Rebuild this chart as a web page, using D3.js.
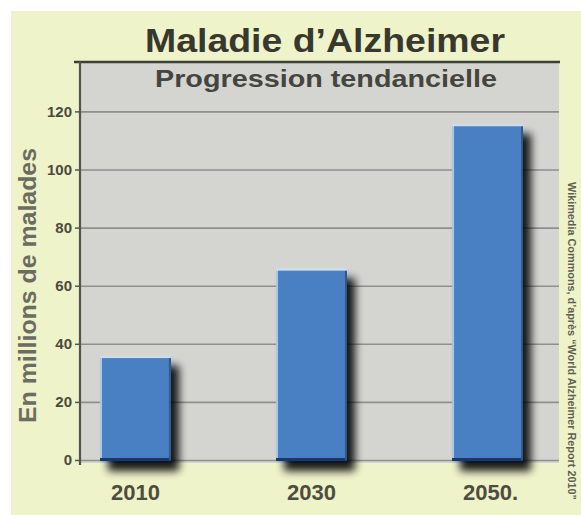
<!DOCTYPE html>
<html>
<head>
<meta charset="utf-8">
<script src="https://cdn.jsdelivr.net/npm/d3@7"></script>
<style>
  body { margin: 0; background: #fff; }
  svg { display: block; font-family: "Liberation Sans", Arial, sans-serif; }
</style>
</head>
<body>
<div id="chart"></div>
<script>
// data (World Alzheimer Report 2010)
const years = ["2010", "2030", "2050."];
const patients = [35.6, 65.7, 115.4];
const yTicks = [0, 20, 40, 60, 80, 100, 120];

const title = "Maladie d\u2019Alzheimer";
const subtitle = "Progression tendancielle";
const yLabel = "En millions de malades";
const credit = "Wikimedia Commons, d\u2019apr\u00e8s \u201cWorld Alzheimer Report 2010\u201d";

function chart() {
    const width = 581,
        height = 515;

    const plot = {left: 80, right: 559, top: 62, bottom: 463};

    const svg = d3.select("#chart").append("svg")
        .attr("width", width)
        .attr("height", height);

    // drop shadow for the bars
    const defs = svg.append("defs");
    const f = defs.append("filter")
        .attr("id", "shadow")
        .attr("x", "-30%").attr("y", "-30%")
        .attr("width", "170%").attr("height", "170%");
    f.append("feGaussianBlur").attr("in", "SourceAlpha").attr("stdDeviation", 4.2).attr("result", "blur");
    f.append("feOffset").attr("in", "blur").attr("dx", 8).attr("dy", 10).attr("result", "off");
    f.append("feComponentTransfer").attr("in", "off").attr("result", "dark")
        .append("feFuncA").attr("type", "linear").attr("slope", 0.9);
    const merge = f.append("feMerge");
    merge.append("feMergeNode").attr("in", "dark");
    merge.append("feMergeNode").attr("in", "SourceGraphic");

    // page background
    svg.append("rect")
        .attr("x", 11).attr("y", 11)
        .attr("width", width - 11).attr("height", height - 11)
        .attr("fill", "#eff3c9");

    // plot background
    svg.append("rect")
        .attr("x", plot.left).attr("y", plot.top)
        .attr("width", plot.right - plot.left).attr("height", plot.bottom - plot.top)
        .attr("fill", "#d4d4d1");

    const x = d3.scaleBand()
        .domain(years)
        .range([100, 523])
        .paddingInner(0.597)
        .paddingOuter(0);

    const y = d3.scaleLinear()
        .domain([0, 137])
        .range([460, plot.top]);

    // gridlines
    svg.append("g")
        .attr("transform", `translate(${plot.left},0)`)
        .call(d3.axisLeft(y).tickValues(yTicks).tickSize(-(plot.right - plot.left)).tickFormat(""))
        .call(g => g.select(".domain").remove())
        .call(g => g.selectAll("line").attr("stroke", "#8f8f8c").attr("stroke-width", 1.6));

    // top border
    svg.append("line")
        .attr("x1", plot.left - 6).attr("x2", plot.right + 1)
        .attr("y1", plot.top).attr("y2", plot.top)
        .attr("stroke", "#3e3e3a").attr("stroke-width", 2.5);

    // bars
    const bar = svg.append("g").selectAll("g")
        .data(years.map((d, i) => ({year: d, value: patients[i]})))
        .join("g")
        .attr("filter", "url(#shadow)");

    bar.append("rect")
        .attr("x", d => x(d.year))
        .attr("y", d => y(d.value))
        .attr("width", x.bandwidth())
        .attr("height", d => y(0) - y(d.value) + 1)
        .attr("fill", "#4a7fc3");

    bar.append("rect")   // dark bottom edge
        .attr("x", d => x(d.year))
        .attr("y", y(0) - 2)
        .attr("width", x.bandwidth())
        .attr("height", 3)
        .attr("fill", "#1d3866");

    bar.append("rect")   // right edge
        .attr("x", d => x(d.year) + x.bandwidth() - 2)
        .attr("y", d => y(d.value))
        .attr("width", 2)
        .attr("height", d => y(0) - y(d.value))
        .attr("fill", "#2f5892");

    bar.append("rect")   // left highlight
        .attr("x", d => x(d.year))
        .attr("y", d => y(d.value))
        .attr("width", 2)
        .attr("height", d => y(0) - y(d.value) - 2)
        .attr("fill", "#a9c7ee");

    bar.append("rect")   // top highlight
        .attr("x", d => x(d.year))
        .attr("y", d => y(d.value) - 1)
        .attr("width", x.bandwidth())
        .attr("height", 2.5)
        .attr("fill", "#c9def6");

    // y axis
    const yAxis = svg.append("g")
        .attr("transform", `translate(${plot.left},0)`)
        .call(d3.axisLeft(y).tickValues(yTicks).tickSize(5).tickPadding(3))
        .call(g => g.select(".domain").remove());
    yAxis.selectAll("line").attr("stroke", "#55554d").attr("stroke-width", 1.5);
    yAxis.selectAll("text")
        .attr("fill", "#4a4a3e")
        .attr("font-size", 15)
        .attr("font-weight", "bold")
        .attr("font-family", "Liberation Sans, Arial, sans-serif");

    svg.append("line")
        .attr("x1", plot.left).attr("x2", plot.left)
        .attr("y1", plot.top).attr("y2", plot.bottom + 2)
        .attr("stroke", "#55554d").attr("stroke-width", 2.2);

    // x labels
    svg.append("g").selectAll("text")
        .data(years)
        .join("text")
        .attr("x", d => x(d) + x.bandwidth() / 2 + (d.endsWith(".") ? 3 : 0))
        .attr("y", 500)
        .attr("text-anchor", "middle")
        .attr("font-size", 22)
        .attr("font-weight", "bold")
        .attr("fill", "#4d4d40")
        .text(d => d);

    // titles
    svg.append("text")
        .attr("x", 145).attr("y", 52)
        .attr("font-size", 33)
        .attr("font-weight", "bold")
        .attr("fill", "#38382f")
        .attr("textLength", 360)
        .attr("lengthAdjust", "spacingAndGlyphs")
        .text(title);

    svg.append("text")
        .attr("x", 155).attr("y", 87)
        .attr("font-size", 23)
        .attr("font-weight", "bold")
        .attr("fill", "#454540")
        .attr("textLength", 342)
        .attr("lengthAdjust", "spacingAndGlyphs")
        .text(subtitle);

    // y label
    svg.append("text")
        .attr("transform", "translate(36,423) rotate(-90)")
        .attr("font-size", 24)
        .attr("font-weight", "bold")
        .attr("fill", "#6c6c60")
        .attr("textLength", 275)
        .attr("lengthAdjust", "spacingAndGlyphs")
        .text(yLabel);

    // credit
    svg.append("text")
        .attr("transform", "translate(568,182) rotate(90)")
        .attr("font-size", 10.5)
        .attr("font-weight", "bold")
        .attr("fill", "#5e5e54")
        .attr("textLength", 318)
        .attr("lengthAdjust", "spacingAndGlyphs")
        .text(credit);
}

window.onload = function() {
  chart();
};
</script>
</body>
</html>
